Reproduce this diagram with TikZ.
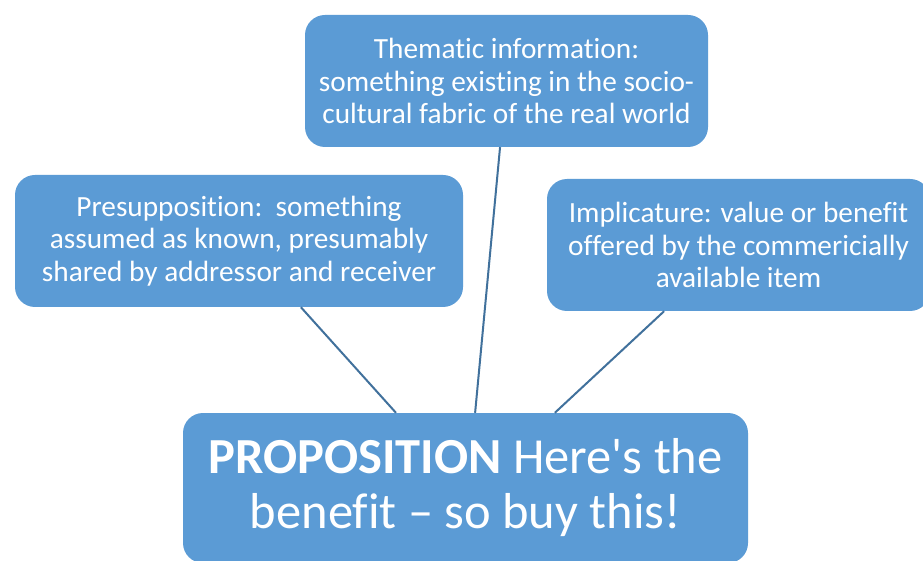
\documentclass[tikz,border=0pt]{standalone}
\usepackage{fontspec}
\setmainfont{Carlito}[Ligatures={NoCommon}]
\usetikzlibrary{calc}
\definecolor{boxblue}{HTML}{5B9BD5}
\definecolor{linkblue}{HTML}{41719C}
\begin{document}
\begin{tikzpicture}[x=1pt,y=1pt,
  idea/.style={fill=boxblue, rounded corners=20pt, text=white, align=center,
    inner sep=0pt, font=\fontsize{29.3}{32.5}\selectfont},
  core/.style={idea, font=\fontsize{50.5}{55}\selectfont},
  link/.style={draw=linkblue, line width=2pt}]
\clip (0,0) rectangle (923,560);
\fill[white] (0,0) rectangle (923,560);

% surrounding ideas
\node[idea, minimum width=403pt, minimum height=132pt] (theme) at (506.5,479)
  {Thematic information:\\something existing in the socio-\\cultural fabric of the real world};
\node[idea, minimum width=448pt, minimum height=132pt] (presup) at (239,319)
  {Presupposition:\ \ something\\assumed as known, presumably\\shared by addressor and receiver};
\node[idea, minimum width=383pt, minimum height=132pt] (implic) at (738.5,315)
  {Implicature: value or benefit\\offered by the commericially\\available item};

% central proposition
\node[core, minimum width=565pt, minimum height=150pt] (prop) at (465.5,72)
  {\textbf{PROPOSITION} Here\textquotesingle s the\\benefit -- so buy this!};

% connectors
\draw[link] ($(presup.south west)!0.638!(presup.south east)$) -- ($(prop.north west)!0.377!(prop.north east)$);
\draw[link] ($(theme.south west)!0.484!(theme.south east)$) -- ($(prop.north west)!0.517!(prop.north east)$);
\draw[link] ($(implic.south west)!0.306!(implic.south east)$) -- ($(prop.north west)!0.658!(prop.north east)$);
\end{tikzpicture}
\end{document}
